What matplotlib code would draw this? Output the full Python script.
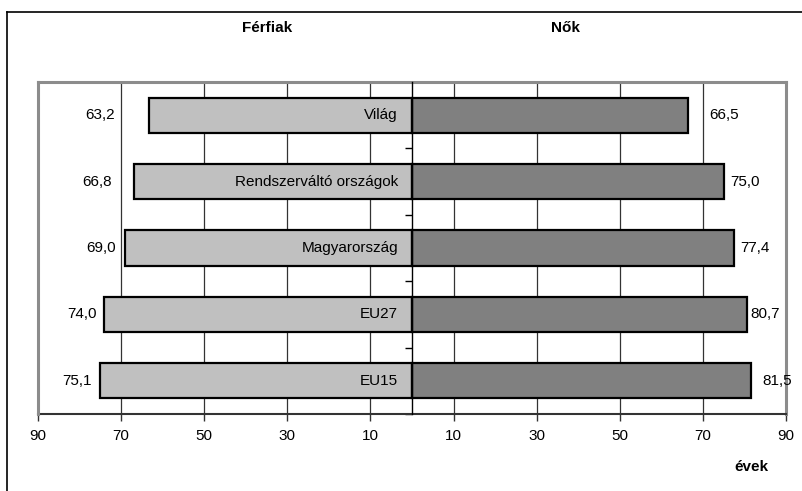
import matplotlib
matplotlib.use("Agg")
import matplotlib.pyplot as plt
from matplotlib.lines import Line2D

plt.rcParams['font.family'] = ['Liberation Sans', 'DejaVu Sans']

# Life expectancy at birth (years)
regions = ["Világ", "Rendszerváltó országok", "Magyarország", "EU27", "EU15"]
men = [63.2, 66.8, 69.0, 74.0, 75.1]
women = [66.5, 75.0, 77.4, 80.7, 81.5]
tick_values = [-90, -70, -50, -30, -10, 10, 30, 50, 70, 90]

# horizontal spacing (px) between each bar end and its value label
men_label_gap = [34, 23, 9, 8, 8]
women_label_gap = [21, 7, 7, 3, 12]

W, H, DPI = 803, 491, 100
fig = plt.figure(figsize=(W / DPI, H / DPI), dpi=DPI)
ax = fig.add_axes([38 / W, 77 / H, 748 / W, 332 / H])

FS = 11
pos = list(range(len(regions)))
bar_h = 0.53

ax.barh(pos, [-m for m in men], height=bar_h, color="#c0c0c0",
        edgecolor="black", linewidth=1.6, zorder=3)
ax.barh(pos, women, height=bar_h, color="#808080",
        edgecolor="black", linewidth=1.6, zorder=3)

px2pt = 72 / DPI
fmt = lambda v: f"{v:.1f}".replace(".", ",")
for i, (m, w) in enumerate(zip(men, women)):
    ax.annotate(fmt(m), (-m, i), xytext=(-men_label_gap[i] * px2pt, 0),
                textcoords="offset points", ha="right", va="center",
                fontsize=FS, zorder=5)
    ax.annotate(fmt(w), (w, i), xytext=(women_label_gap[i] * px2pt, 0),
                textcoords="offset points", ha="left", va="center",
                fontsize=FS, zorder=5)
    ax.annotate(regions[i], (0, i), xytext=(-14 * px2pt, 0),
                textcoords="offset points", ha="right", va="center",
                fontsize=FS, zorder=5)

ax.set_xlim(-90, 90)
ax.set_ylim(len(regions) - 0.5, -0.5)

ax.set_xticks(tick_values)
ax.set_xticklabels([str(abs(t)) for t in tick_values], fontsize=FS)
ax.tick_params(axis="x", direction="out", length=5, width=1,
               color="#333333", pad=6)
ax.xaxis.grid(True, color="#333333", linewidth=0.9, zorder=0)
ax.set_axisbelow(True)

# category axis running through zero, ticks between categories
ax.spines["left"].set_position(("data", 0))
ax.spines["left"].set_color("black")
ax.spines["left"].set_linewidth(1.0)
ax.spines["left"].set_zorder(4)
ax.set_yticks([p - 0.5 for p in pos] + [len(regions) - 0.5])
ax.set_yticklabels([])
ax.tick_params(axis="y", direction="out", length=5, width=1, color="black")

ax.spines["bottom"].set_color("#333333")
ax.spines["bottom"].set_linewidth(1.5)
for side in ("top", "right"):
    ax.spines[side].set_color("#8c8c8c")
    ax.spines[side].set_linewidth(2.2)
ax.add_line(Line2D([0, 0], [0, 1], transform=ax.transAxes,
                   color="#8c8c8c", linewidth=2.2, clip_on=False, zorder=4))

# panel headings and unit
fig.text(267.5 / W, 1 - 28 / H, "Férfiak", ha="center", va="center",
         fontsize=FS, fontweight="bold")
fig.text(565.5 / W, 1 - 28 / H, "Nők", ha="center", va="center",
         fontsize=FS, fontweight="bold")
fig.text(751 / W, 1 - 467 / H, "évek", ha="center", va="center",
         fontsize=FS, fontweight="bold")

# outer chart border (left and top edges)
fig.add_artist(Line2D([7.5 / W, 7.5 / W], [0, 1 - 12 / H],
                      transform=fig.transFigure, color="black", linewidth=1.2))
fig.add_artist(Line2D([7.5 / W, 1], [1 - 12 / H, 1 - 12 / H],
                      transform=fig.transFigure, color="black", linewidth=1.2))

fig.savefig("out.png", dpi=DPI)
